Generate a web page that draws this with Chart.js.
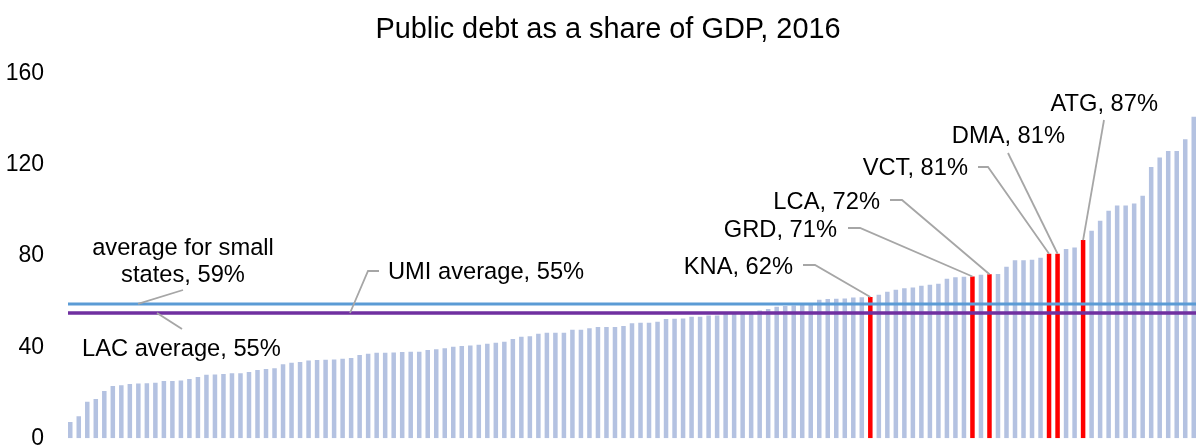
<!DOCTYPE html>
<html>
<head>
<meta charset="utf-8">
<title>Public debt as a share of GDP, 2016</title>
<script src="https://cdn.jsdelivr.net/npm/chart.js@4.4.1/dist/chart.umd.min.js"></script>
<style>
  html, body { margin: 0; padding: 0; background: #fff; overflow: hidden; }
  #wrap { position: relative; width: 1216px; height: 456px; }
</style>
</head>
<body>
<div id="wrap"><canvas id="debtChart"></canvas></div>
<script>
// Public debt, % of GDP, one bar per country, sorted ascending
const debtRatio = [
  7.2, 9.7, 16, 17.2, 20.8, 23, 23.3, 23.8, 24.1, 24.2,
  24.4, 25.1, 25.1, 25.4, 26, 26.9, 27.9, 28, 28.2, 28.5,
  28.6, 29.1, 30, 30.4, 30.7, 32.5, 33.2, 33.5, 34.2, 34.4,
  34.5, 34.6, 34.9, 35.2, 36.6, 37.1, 37.6, 37.6, 37.7, 37.9,
  38, 38, 38.8, 39.1, 39.5, 40.2, 40.5, 40.7, 41.1, 41.5,
  41.9, 42.4, 43.6, 44.6, 44.8, 45.9, 46.3, 46.3, 46.3, 47.6,
  47.6, 48.3, 48.9, 48.9, 48.9, 49.3, 50.5, 50.7, 50.7, 51.2,
  52.4, 52.5, 52.6, 53.3, 53.3, 53.9, 53.9, 54.8, 55, 55.2,
  55.5, 56.1, 56.7, 57.7, 58.1, 58.3, 58.8, 59.3, 60.8, 61.1,
  61.2, 61.4, 61.8, 61.9, 62, 63, 64.3, 65.2, 65.9, 66.2,
  67, 67.4, 67.8, 70, 70.7, 70.9, 71, 71.8, 72, 72.1,
  75.3, 78.1, 78.1, 78.4, 79.3, 81, 81, 83.1, 83.8, 87,
  91.1, 95.5, 99.9, 102.2, 102.2, 103.1, 106.5, 119.1, 123.2, 126.1,
  126.1, 131.3, 141.1
];

// ECCU members, highlighted in red
const eccuCodes = ['KNA', 'GRD', 'LCA', 'VCT', 'DMA', 'ATG'];
const eccuPositions = [94, 106, 108, 115, 116, 119];

// reference averages drawn as horizontal lines
const averageNames = ['average for small\nstates', 'LAC average', 'UMI average'];
const averageValues = [59, 55, 55];

const yTicks = [0, 40, 80, 120, 160];

const categories = debtRatio.map((_, i) => {
  const k = eccuPositions.indexOf(i);
  return k >= 0 ? eccuCodes[k] : '';
});

const FONT = "'Liberation Sans', Arial, sans-serif";
const BAR_COLOR = '#B4C2E1';
const ECCU_COLOR = '#FF0000';
const LEADER_COLOR = '#A6A6A6';
const averageColors = ['#5B9BD5', '#7030A0', '#7030A0'];

// callout placement: text anchor (baseline), elbow points, then the mark
const eccuCallouts = [
  { x: 793, y: 274, path: [[803, 265], [815, 265]] },
  { x: 837, y: 237, path: [[848, 228], [860, 228]] },
  { x: 880, y: 209, path: [[890, 200], [902, 200]] },
  { x: 968, y: 175, path: [[978, 167], [988, 167]] },
  { x: 1065, y: 143, path: [[1008, 153]] },
  { x: 1158, y: 111, path: [[1104, 120]] }
];
const averageCallouts = [
  { x: 183, y: 255, align: 'center', path: [[183, 290]], endX: 138 },
  { x: 82, y: 356, align: 'left', path: [[182, 329]], endX: 157 },
  { x: 388, y: 279, align: 'left', path: [[379, 271], [368, 271]], endX: 350 }
];

function strokePath(ctx, pts) {
  ctx.beginPath();
  pts.forEach(([px, py], k) => (k ? ctx.lineTo(px, py) : ctx.moveTo(px, py)));
  ctx.stroke();
}

const calloutPlugin = {
  id: 'debtCallouts',
  afterLayout(chart) {
    // centre the title over the visible width rather than the padded box
    chart.titleBlock.left += 18;
  },
  afterDatasetsDraw(chart) {
    const { ctx, chartArea, scales: { x, y } } = chart;
    ctx.save();

    // average lines across the plot
    averageValues.forEach((v, i) => {
      const py = y.getPixelForValue(v);
      ctx.strokeStyle = averageColors[i];
      ctx.lineWidth = 3;
      strokePath(ctx, [[chartArea.left + 2, py], [chartArea.right, py]]);
    });

    ctx.font = '23.7px ' + FONT;
    ctx.fillStyle = '#000';
    ctx.textBaseline = 'alphabetic';
    ctx.strokeStyle = LEADER_COLOR;
    ctx.lineWidth = 1.8;

    // country callouts
    eccuPositions.forEach((idx, k) => {
      const c = eccuCallouts[k];
      const value = debtRatio[idx];
      const tip = [x.getPixelForValue(idx), y.getPixelForValue(value)];
      strokePath(ctx, [...c.path, tip]);
      ctx.textAlign = 'right';
      ctx.fillText(eccuCodes[k] + ', ' + Math.round(value) + '%', c.x, c.y);
    });

    // average callouts
    averageNames.forEach((name, k) => {
      const c = averageCallouts[k];
      const value = averageValues[k];
      strokePath(ctx, [...c.path, [c.endX, y.getPixelForValue(value)]]);
      ctx.textAlign = c.align;
      const lines = (name + ', ' + value + '%').split('\n');
      lines.forEach((line, j) => ctx.fillText(line, c.x, c.y + j * 27.3));
    });

    ctx.restore();
  }
};

new Chart(document.getElementById('debtChart'), {
  type: 'bar',
  data: {
    labels: categories,
    datasets: [{
      data: debtRatio,
      backgroundColor: categories.map(c => (c ? ECCU_COLOR : BAR_COLOR)),
      borderWidth: 0,
      barPercentage: 0.53,
      categoryPercentage: 1
    }]
  },
  options: {
    responsive: true,
    maintainAspectRatio: false,
    animation: false,
    layout: { padding: { left: 0, right: 18, top: 0, bottom: 17.7 } },
    plugins: {
      legend: { display: false },
      tooltip: { enabled: false },
      title: {
        display: true,
        text: 'Public debt as a share of GDP, 2016',
        color: '#000',
        font: { family: FONT, size: 28.9, weight: 'normal' },
        padding: { top: 12.5, bottom: 26.6 }
      }
    },
    scales: {
      x: { display: false },
      y: {
        min: 0,
        max: 160,
        afterBuildTicks: scale => { scale.ticks = yTicks.map(v => ({ value: v })); },
        afterFit: scale => {
          scale.width = 66;
          // let the end labels hang outside the plot instead of shrinking it
          scale.paddingTop = 0;
          scale.paddingBottom = 0;
        },
        grid: { display: false, drawTicks: false },
        border: { display: false },
        ticks: { color: '#000', padding: 22, font: { family: FONT, size: 23 } }
      }
    }
  },
  plugins: [calloutPlugin]
});
</script>
</body>
</html>
